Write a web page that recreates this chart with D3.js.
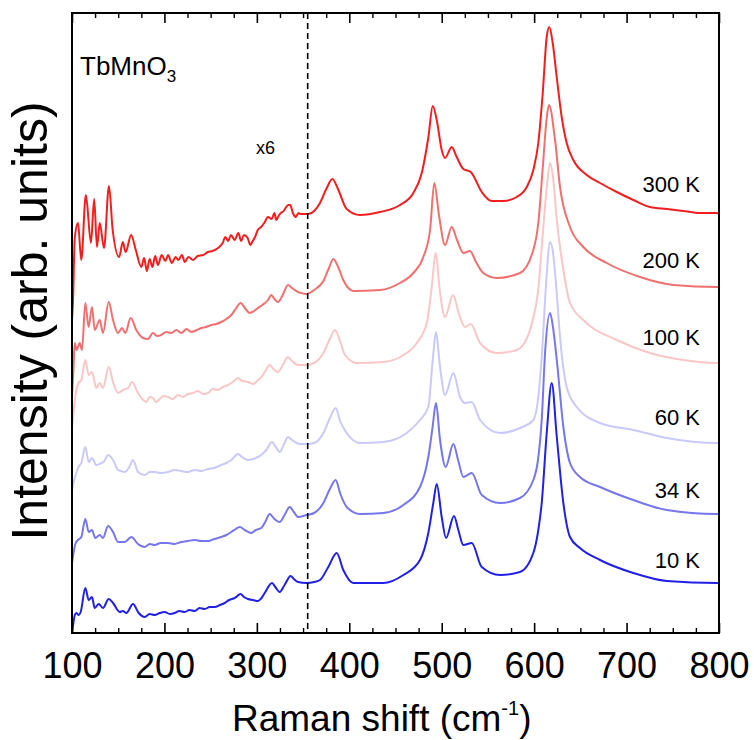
<!DOCTYPE html>
<html>
<head>
<meta charset="utf-8">
<script src="https://cdn.jsdelivr.net/npm/d3@7"></script>
<style>
  html, body { margin: 0; padding: 0; background: #fff; }
  svg { display: block; font-family: "Liberation Sans", Arial, Helvetica, sans-serif; }
</style>
</head>
<body>
<svg id="chart" width="754" height="740"></svg>
<script>
// ---- data (Raman shift in cm-1, intensity in arb. units incl. vertical offset) ----
const temperatures = ["300 K", "200 K", "100 K", "60 K", "34 K", "10 K"];
const seriesColors = ["#f21e1e", "#f07070", "#fbc6c6", "#c9c9fb", "#7676ee", "#2020e6"];
const labelLevels = [441, 365, 288, 208, 135, 65];

const spec300K = [[100,313],[101,330],[103,395],[106.5,410],[110,373],[115,438],[120.5,390],[124,434],[127,386],[130,410],[134.6,385],[140,447],[144,403],[151,376],[155,391],[158,381],[164,398],[169,383],[175,366],[178,375],[181,362],[184,374],[187,366],[190,377],[193,368],[197,378],[201,372],[204,378],[208,370],[212,376],[215,373],[219,378],[222,371],[226,376],[231,373],[236,377],[242,378],[247,381],[252,382],[258,385],[263,390],[266,396],[269,392],[272,398],[276,393],[280,400],[283,392],[286,398],[290,395],[293,388],[295,391],[298,396],[301,403],[304.5,406],[308,410],[312,416],[316,414],[319,420],[321,413],[324,418],[326,420],[329,422],[331,425],[334,428],[336,428],[339,420],[342,416],[345,420],[347,419],
  [355.7,419],[362,422],[368.3,430],[375.6,445],[381.7,454],[388.2,443],[397.2,424],[411.6,418],[433.3,421],[454.9,428],[469.3,440],[478.4,460],[485.6,496],[490.3,527],[494.6,513],[500,483],[503.6,475],[510.8,486],[516.2,476],[523.4,464],[531.4,461],[543.3,441],[554.1,432],[566.7,432],[581.2,436],[592,446],[599.1,463],[604.5,490],[609.3,540],[613.6,596],[616.4,606],[620.1,590],[624.4,556],[629.8,516],[635.2,490],[642.4,473],[656.9,458],[671.3,450],[689.4,441],[707.3,433],[725.4,426],[743.5,424],[761.4,422],[779.5,420],[797.5,420],[800,419]];

const spec200K = [[100,236],[101.5,262],[103,290],[105,283],[108.3,290],[110.8,283],[114.4,330],[118,306],[121.6,326],[124.6,303],[130,313],[133.5,300],[139.7,331],[144.4,313],[149.8,300],[154.1,305],[157.7,300],[163.5,315],[169.6,303],[176.8,295],[182.2,294],[187.6,300],[192,297],[196.6,298],[202,301],[207.4,300],[213,303],[218.3,300],[224,304],[229.1,301],[235,303],[239.9,305],[245,306],[250.7,308],[256,309],[261.5,311],[267,314],[272.4,318],[277,324],[282.5,330],[287,325],[292.3,320],[297,322],[301.2,325],[306,328],[312.1,333],[315.6,338],[319,334],[322.9,331],[328,338],[333.7,348],[338,345],[344.5,341],[348,340],
  [353.9,339],[362,343],[372,352],[378,365],[382.7,374],[388,366],[393.5,353],[404.4,342],[433.3,343],[454.9,350],[469.3,360],[480.1,376],[487.4,403],[492,450],[497,418],[503.6,388],[510.8,406],[516.6,393],[523.4,380],[530.6,382],[537.1,371],[545,360],[559.5,355],[584.7,360],[599.1,383],[604.5,410],[609.3,465],[613.6,515],[616.1,528],[622.6,493],[628,446],[638.8,406],[653.2,386],[678.5,370],[714.6,356],[750.6,348],[797.5,346],[800,346]];

const spec100K = [[100,205],[101.1,216],[104.7,243],[107,250],[110.1,253],[114.4,273],[118.1,258],[121.6,261],[126.3,245],[130,250],[133.5,245],[139.7,266],[144.4,251],[149.8,240],[155.2,243],[160.6,245],[164.9,251],[171.4,240],[176,234],[180.4,231],[184,236],[187.6,235],[191,231],[194.9,234],[199,237],[203.9,236],[209,234],[214.7,238],[220,236],[225.5,239],[231,240],[236.3,242],[242,239],[247.2,240],[252,244],[258,243],[263,246],[268.8,248],[274,251],[279.6,255],[284,252],[290.4,251],[296,249],[301.2,253],[305,256],[308.5,261],[313.9,268],[318,264],[322.9,261],[328,268],[333.7,276],[338,272],[344.5,268],
  [353.9,268],[362,270],[372,280],[379,294],[384.6,303],[390,292],[395.4,278],[408,270],[436.8,271],[454.9,276],[473,290],[483.8,310],[489.2,346],[493.5,380],[498.2,340],[503.6,316],[512.2,338],[519,318],[525.2,306],[531.4,309],[541.5,290],[559.5,280],[581.2,283],[595.6,303],[599,315],[604,340],[609,395],[613.6,445],[617.2,470],[620.5,455],[624.5,413],[631.6,363],[638.8,330],[653.2,313],[689.4,293],[725.4,280],[761.4,273],[797.5,270],[800,270]];

const spec60K = [[100,143],[102,152],[104.7,160],[107,166],[110.1,170],[114.4,186],[118.1,171],[121.6,175],[126.3,168],[131.7,170],[135,172],[139,178],[144.4,173],[149.8,163],[153,162],[157,161],[162,166],[166,173],[171.4,161],[178.7,158],[184,161],[189.5,161],[196,160],[203.9,161],[211,163],[218.3,162],[225,161],[232.8,163],[240,162],[247.2,164],[254,165],[261.5,168],[267,170],[272.4,173],[279.6,179],[284,176],[290.4,173],[296,174],[301.2,176],[306,179],[310.2,183],[316.4,191],[320.5,186],[324.7,181],[329,188],[333.7,196],[338,193],[346.7,189],
  [353.9,189],[362,190],[372,200],[379,215],[385.3,225],[390,212],[397.2,200],[411.6,190],[436.8,191],[462.1,200],[476.5,213],[485.5,226],[490.3,273],[493.8,301],[498.2,266],[503.6,238],[512.6,260],[519.8,236],[525,230],[532.5,231],[541.5,213],[563.1,200],[584.7,205],[599.1,213],[604,232],[608.5,280],[613,350],[617.2,391],[620.5,380],[624,345],[628,296],[635.2,246],[646.1,226],[671.3,210],[707.3,203],[743.5,195],[797.5,190],[800,190]];

const spec34K = [[100,70],[102,82],[104,90],[106.5,93],[110.1,96],[114.4,114],[118.1,101],[121.6,103],[125.2,95],[130,98],[133.5,95],[139,107],[144.4,101],[149.8,91],[157,91],[164.2,96],[171.4,89],[178.7,86],[184,89],[189.5,88],[196,90],[203.9,90],[211,89],[218.3,91],[225,92],[232.8,93],[240,92],[247.2,92],[254,94],[261.5,96],[267,98],[272.4,101],[277,104],[281.4,106],[287,103],[294,100],[299,103],[304.8,105],[309,111],[313.9,119],[319,114],[324.7,111],[330,118],[335.5,126],[340,121],[344.5,116],
  [353.9,118],[362,120],[372,130],[379,144],[385.3,153],[390,140],[397.2,126],[411.6,119],[436.8,120],[458.5,128],[476.5,146],[485.5,176],[490,205],[493.8,230],[498.2,193],[504.3,166],[512.6,189],[518,172],[523.4,156],[532.5,160],[543.3,138],[563.1,130],[584.7,135],[599.1,153],[604,172],[608.2,213],[611.8,280],[617.2,320],[620.5,305],[624.5,273],[631.6,206],[638.8,170],[649.6,156],[671.3,146],[707.3,133],[743.5,123],[797.5,119],[800,119]];

const spec10K = [[100,0],[101.5,10],[103,18],[104.7,20],[107,18],[109.4,21],[114.4,45],[118.1,33],[121.6,36],[124.6,25],[128.9,29],[133.5,25],[139.7,34],[144.4,30],[151.6,21],[155,22],[158.8,20],[166,29],[172.2,20],[178.7,16],[184,19],[189.5,18],[195,20],[200.3,21],[206,19],[211.1,20],[216,22],[221.9,21],[227,23],[232.8,22],[238,25],[243.6,24],[249,26],[254.4,26],[260,28],[265.2,30],[270,33],[276,35],[282.5,39],[286,36],[290.4,34],[296,33],[301.2,32],[305,35],[308.5,40],[316.4,50],[320,46],[324.7,41],[330,48],[336.6,57],[340,54],[344.5,51],
  [353.9,50],[362,51],[368.3,53],[377.3,66],[386.4,80],[393.5,63],[404.4,50],[436.8,50],[458.5,58],[476.5,73],[485.5,100],[490.9,130],[494.6,149],[500,116],[504.7,95],[513.3,117],[518,103],[523.4,88],[532.5,90],[543.3,66],[563.1,58],[584.7,61],[599.1,80],[604,100],[608.2,130],[613.6,200],[619,250],[624.5,196],[631.6,130],[638.8,96],[649.6,85],[671.3,73],[707.3,60],[743.5,52],[797.5,50],[800,50]];

const spectra = [spec300K, spec200K, spec100K, spec60K, spec34K, spec10K];
const majorTicks = [100, 200, 300, 400, 500, 600, 700, 800];
const minorTicks = d3.range(100, 801, 25).filter(v => v % 100 !== 0);
const cutShift = 355;

// ---- layout ----
const svg = d3.select("#chart");
const margin = { left: 72, right: 719, top: 13, bottom: 633 };
const x = d3.scaleLinear().domain([100, 800]).range([margin.left, margin.right]);
const y = d3.scaleLinear().domain([0, 620]).range([margin.bottom, margin.top]);

svg.append("defs").append("clipPath").attr("id", "clip")
  .append("rect").attr("x", margin.left).attr("y", margin.top)
  .attr("width", margin.right - margin.left).attr("height", margin.bottom - margin.top);

const line = d3.line().x(d => x(d[0])).y(d => y(d[1])).curve(d3.curveMonotoneX);

const plot = svg.append("g").attr("clip-path", "url(#clip)");
// draw bottom series last-to-first so 300 K sits on top like the original
spectra.forEach((s, i) => {
  plot.append("path").datum(s)
    .attr("d", line)
    .attr("fill", "none")
    .attr("stroke", seriesColors[i])
    .attr("stroke-width", 2)
    .attr("stroke-linejoin", "round");
});

// dashed separator
svg.append("line")
  .attr("x1", x(cutShift)).attr("x2", x(cutShift))
  .attr("y1", margin.top).attr("y2", margin.bottom)
  .attr("stroke", "#000").attr("stroke-width", 1.6)
  .attr("stroke-dasharray", "6,4");

// axes
const bottomAxis = d3.axisBottom(x).tickValues(majorTicks).tickSize(-10).tickPadding(19).tickFormat(d3.format("d"));
const gB = svg.append("g").attr("transform", `translate(0,${margin.bottom})`).call(bottomAxis);
gB.select(".domain").remove();
gB.selectAll("line").attr("stroke", "#000").attr("stroke-width", 1.6);
gB.selectAll("text").attr("font-size", 36).attr("fill", "#000")
  .attr("font-family", '"Liberation Sans", Arial, sans-serif');

const gBm = svg.append("g").attr("transform", `translate(0,${margin.bottom})`)
  .call(d3.axisBottom(x).tickValues(minorTicks).tickSize(-5).tickFormat(""));
gBm.select(".domain").remove();
gBm.selectAll("line").attr("stroke", "#000").attr("stroke-width", 1.4);

const gT = svg.append("g").attr("transform", `translate(0,${margin.top})`)
  .call(d3.axisTop(x).tickValues(majorTicks).tickSize(-10).tickFormat(""));
gT.select(".domain").remove();
gT.selectAll("line").attr("stroke", "#000").attr("stroke-width", 1.6);
const gTm = svg.append("g").attr("transform", `translate(0,${margin.top})`)
  .call(d3.axisTop(x).tickValues(minorTicks).tickSize(-5).tickFormat(""));
gTm.select(".domain").remove();
gTm.selectAll("line").attr("stroke", "#000").attr("stroke-width", 1.4);

// frame
svg.append("rect")
  .attr("x", margin.left).attr("y", margin.top)
  .attr("width", margin.right - margin.left).attr("height", margin.bottom - margin.top)
  .attr("fill", "none").attr("stroke", "#000").attr("stroke-width", 2);

// temperature labels
svg.append("g").selectAll("text").data(temperatures).join("text")
  .attr("x", 700)
  .attr("y", (d, i) => y(labelLevels[i]))
  .attr("text-anchor", "end")
  .attr("font-size", 22)
  .attr("fill", "#000")
  .text(d => d);

// sample name
const tb = svg.append("text").attr("x", 80).attr("y", 75).attr("font-size", 26).attr("fill", "#000");
tb.append("tspan").text("TbMnO");
tb.append("tspan").attr("font-size", 17).attr("dy", 7).text("3");

// magnification note
svg.append("text").attr("x", 256).attr("y", 154).attr("font-size", 18).attr("fill", "#000").text("x6");

// axis titles
const xt = svg.append("text").attr("x", 232).attr("y", 731).attr("font-size", 37).attr("fill", "#000");
xt.append("tspan").text("Raman shift (cm");
xt.append("tspan").attr("font-size", 20).attr("dy", -16).text("-1");
xt.append("tspan").attr("dy", 16).text(")");

svg.append("text")
  .attr("transform", "translate(47,321) rotate(-90)")
  .attr("text-anchor", "middle")
  .attr("font-size", 50)
  .attr("fill", "#000")
  .text("Intensity (arb. units)");
</script>
</body>
</html>
